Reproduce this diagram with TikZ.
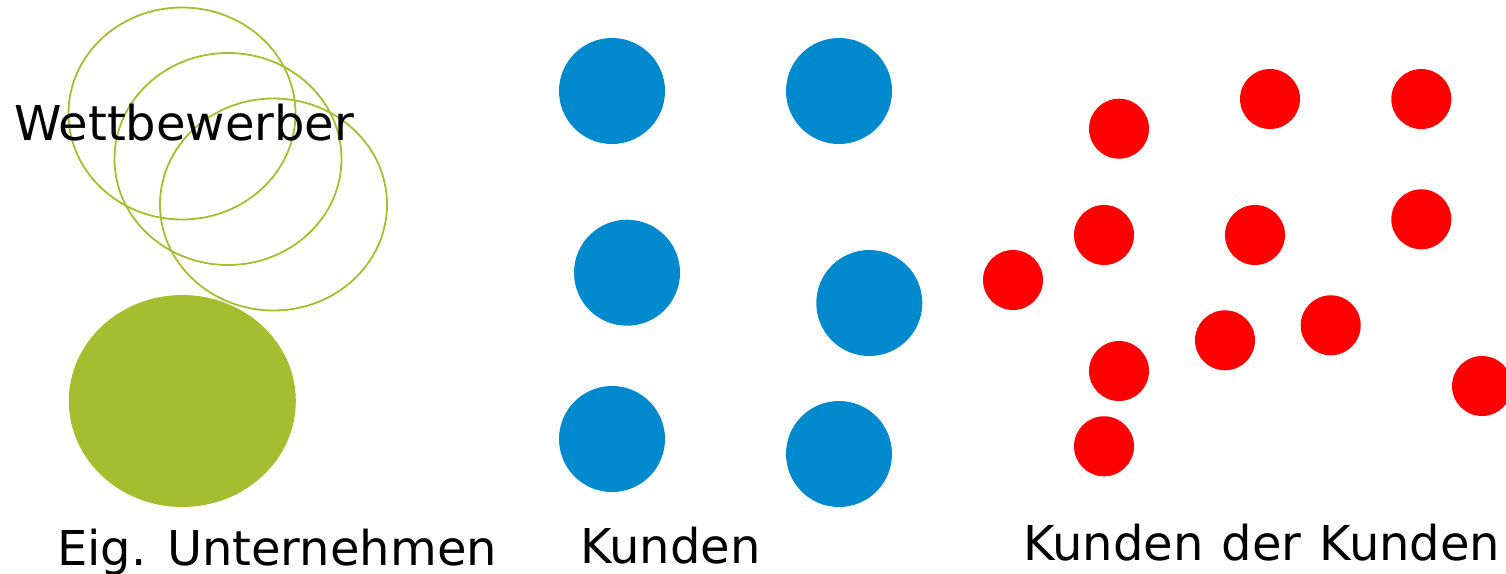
\documentclass[tikz,border=0pt]{standalone}
\usepackage{fontspec}
\setmainfont{DejaVu Sans}
\usetikzlibrary{shapes.geometric}
\definecolor{lgreen}{RGB}{165,190,48}
\definecolor{kblue}{RGB}{0,137,204}
\definecolor{kred}{RGB}{255,0,0}
\tikzset{
  rivalring/.style={ellipse, draw=lgreen, line width=1.8pt, minimum width=227pt, minimum height=212pt, inner sep=0pt},
  owndisk/.style={ellipse, fill=lgreen, minimum width=227pt, minimum height=212pt, inner sep=0pt},
  bluedot/.style={circle, fill=kblue, minimum size=106pt, inner sep=0pt},
  reddot/.style={circle, fill=kred, minimum size=60pt, inner sep=0pt},
  label/.style={anchor=base west, inner sep=0pt, outer sep=0pt, font=\fontsize{48}{57}\selectfont, text=black}
}
\begin{document}
\begin{tikzpicture}[x=1pt,y=-1pt]
\useasboundingbox (0,0) rectangle (1506,573);
\clip (0,0) rectangle (1506,573);
% competitors
\node[rivalring] (w1) at (182,113.5) {};
\node[rivalring] (w2) at (228,159) {};
\node[rivalring] (w3) at (273.5,204.5) {};
\node[label] (wlab) at (14,140) {Wettbewerber};
% own company
\node[owndisk] (own) at (182.3,401) {};
\node[label] (ownlab) at (57.3,565) {Eig. Unternehmen};
% customers
\node[bluedot] (k1) at (612,91) {};
\node[bluedot] (k2) at (839,91) {};
\node[bluedot] (k3) at (627,272.7) {};
\node[bluedot] (k4) at (869.3,303) {};
\node[bluedot] (k5) at (612,439) {};
\node[bluedot] (k6) at (839,454) {};
\node[label] (klab) at (580.3,563) {Kunden};
% customers of customers
\node[reddot] (r1) at (1119,128.7) {};
\node[reddot] (r2) at (1270,99) {};
\node[reddot] (r3) at (1421.3,99) {};
\node[reddot] (r4) at (1104,235) {};
\node[reddot] (r5) at (1255,235) {};
\node[reddot] (r6) at (1421.3,219.3) {};
\node[reddot] (r7) at (1013,280) {};
\node[reddot] (r8) at (1330.7,325.3) {};
\node[reddot] (r9) at (1225,340.3) {};
\node[reddot] (r10) at (1119,371) {};
\node[reddot] (r11) at (1104,446.3) {};
\node[reddot] (r12) at (1482,386) {};
\node[label] (kklab) at (1023.3,560) {Kunden\hspace{3pt} der\hspace{3pt} Kunden};
\end{tikzpicture}
\end{document}
